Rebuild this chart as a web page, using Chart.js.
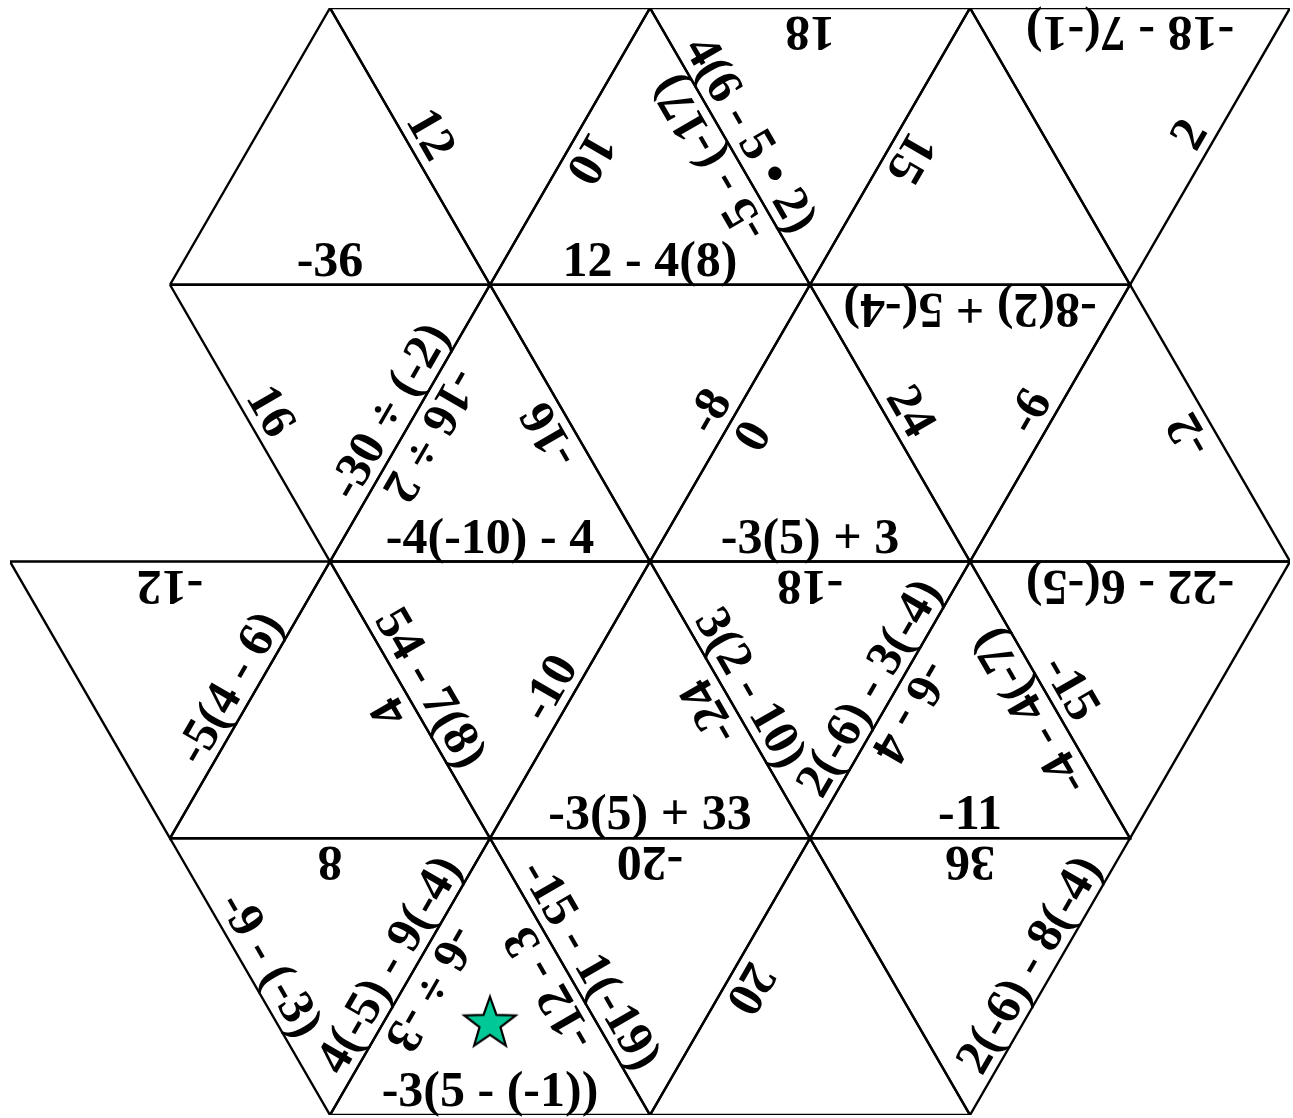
<!DOCTYPE html>
<html>
<head>
<meta charset="utf-8">
<script src="https://cdn.jsdelivr.net/npm/chart.js@4.4.1/dist/chart.umd.min.js"></script>
<style>
  html, body { margin: 0; padding: 0; background: #ffffff; overflow: hidden; }
  canvas { display: block; }
</style>
</head>
<body>
<canvas id="c" width="1293" height="1118"></canvas>
<script>
// Triangle vertices in lattice units: [column (half-side units), row]
// Up triangles: [bottom-left, bottom-right, top]; down triangles: [top-left, top-right, bottom]
const triangleVertices = [
  [[1,1],[3,1],[2,0]],
  [[2,0],[4,0],[3,1]],
  [[3,1],[5,1],[4,0]],
  [[4,0],[6,0],[5,1]],
  [[5,1],[7,1],[6,0]],
  [[6,0],[8,0],[7,1]],
  [[1,1],[3,1],[2,2]],
  [[2,2],[4,2],[3,1]],
  [[3,1],[5,1],[4,2]],
  [[4,2],[6,2],[5,1]],
  [[5,1],[7,1],[6,2]],
  [[6,2],[8,2],[7,1]],
  [[0,2],[2,2],[1,3]],
  [[1,3],[3,3],[2,2]],
  [[2,2],[4,2],[3,3]],
  [[3,3],[5,3],[4,2]],
  [[4,2],[6,2],[5,3]],
  [[5,3],[7,3],[6,2]],
  [[6,2],[8,2],[7,3]],
  [[1,3],[3,3],[2,4]],
  [[2,4],[4,4],[3,3]],
  [[3,3],[5,3],[4,4]],
  [[4,4],[6,4],[5,3]],
  [[5,3],[7,3],[6,4]]
];

// Labels per triangle, per edge: [base edge, right edge, left edge]
const baseLabels = [
  "-36", "", "12 - 4(8)", "18", "", "-18 - 7(-1)",
  "", "-4(-10) - 4", "", "-3(5) + 3", "-8(2) + 5(-4)", "",
  "-12", "", "", "-3(5) + 33", "-18", "-11", "-22 - 6(-5)",
  "8", "-3(5 - (-1))", "-20", "", "36"
];
const rightLabels = [
  "", "", "-5 - (-17)", "", "", "2",
  "-30 ÷ (-2)", "-16", "-8", "", "-6", "-2",
  "-5(4 - 6)", "4", "-10", "-24", "2(-6) - 3(-4)", "-4 - 4(-7)", "",
  "4(-5) - 9(-4)", "-12 - 3", "", "", "2(-6) - 8(-4)"
];
const leftLabels = [
  "", "12", "10", "4(6 - 5 • 2)", "15", "",
  "16", "-16 ÷ 2", "", "0", "24", "",
  "", "", "54 - 7(8)", "", "3(2 - 10)", "-6 - 4", "-15",
  "-9 - (-3)", "-6 ÷ -3", "-15 - 1(-19)", "20", ""
];

// The starred (start) piece
const starTriangle = 20;

function centroid(v) {
  return { x: (v[0][0] + v[1][0] + v[2][0]) / 3, y: (v[0][1] + v[1][1] + v[2][1]) / 3 };
}

function makeStar() {
  const c = document.createElement('canvas');
  c.width = 60; c.height = 60;
  const g = c.getContext('2d');
  const cx = 30, cy = 31, ro = 27, ri = 11;
  g.beginPath();
  for (let i = 0; i < 10; i++) {
    const r = i % 2 === 0 ? ro : ri;
    const a = -Math.PI / 2 + i * Math.PI / 5;
    const x = cx + r * Math.cos(a), y = cy + r * Math.sin(a);
    if (i === 0) g.moveTo(x, y); else g.lineTo(x, y);
  }
  g.closePath();
  g.fillStyle = '#00C896';
  g.fill();
  g.lineWidth = 2.2;
  g.lineJoin = 'miter';
  g.strokeStyle = '#000';
  g.stroke();
  return c;
}

const datasets = triangleVertices.map(v => ({
  data: [v[0], v[1], v[2], v[0]].map(p => ({ x: p[0], y: p[1] })),
  showLine: true,
  borderColor: '#000000',
  borderWidth: 2.4,
  pointRadius: 0,
  fill: false,
  tension: 0
}));
datasets.push({
  data: [centroid(triangleVertices[starTriangle])],
  pointStyle: makeStar(),
  pointRadius: 27,
  showLine: false
});

const edgeText = {
  id: 'edgeText',
  afterDatasetsDraw(chart) {
    const ctx = chart.ctx, xs = chart.scales.x, ys = chart.scales.y;
    ctx.save();
    ctx.fillStyle = '#000';
    ctx.font = "bold 50px 'Liberation Serif', 'Times New Roman', serif";
    ctx.textAlign = 'center';
    ctx.textBaseline = 'alphabetic';
    triangleVertices.forEach((v, i) => {
      const p = v.map(q => ({ x: xs.getPixelForValue(q[0]), y: ys.getPixelForValue(q[1]) }));
      const cx = (p[0].x + p[1].x + p[2].x) / 3, cy = (p[0].y + p[1].y + p[2].y) / 3;
      const labels = [baseLabels[i], rightLabels[i], leftLabels[i]];
      for (let e = 0; e < 3; e++) {
        const t = labels[e];
        if (!t) continue;
        const a = p[e], b = p[(e + 1) % 3];
        const mx = (a.x + b.x) / 2, my = (a.y + b.y) / 2;
        let ux = cx - mx, uy = cy - my;
        const len = Math.hypot(ux, uy);
        ux /= len; uy /= len;
        const ang = Math.atan2(ux, -uy);
        ctx.save();
        ctx.translate(mx + ux * 9, my + uy * 9);
        ctx.rotate(ang);
        ctx.fillText(t, 0, 0);
        ctx.restore();
      }
    });
    ctx.restore();
  }
};

new Chart(document.getElementById('c'), {
  type: 'scatter',
  data: { datasets },
  options: {
    responsive: false,
    animation: false,
    devicePixelRatio: 1,
    layout: { autoPadding: false, padding: { left: 10, right: 3, top: 8, bottom: 3 } },
    plugins: { legend: { display: false }, tooltip: { enabled: false } },
    scales: {
      x: { type: 'linear', min: 0, max: 8, display: false },
      y: { type: 'linear', min: 0, max: 4, reverse: true, display: false }
    }
  },
  plugins: [edgeText]
});
</script>
</body>
</html>
